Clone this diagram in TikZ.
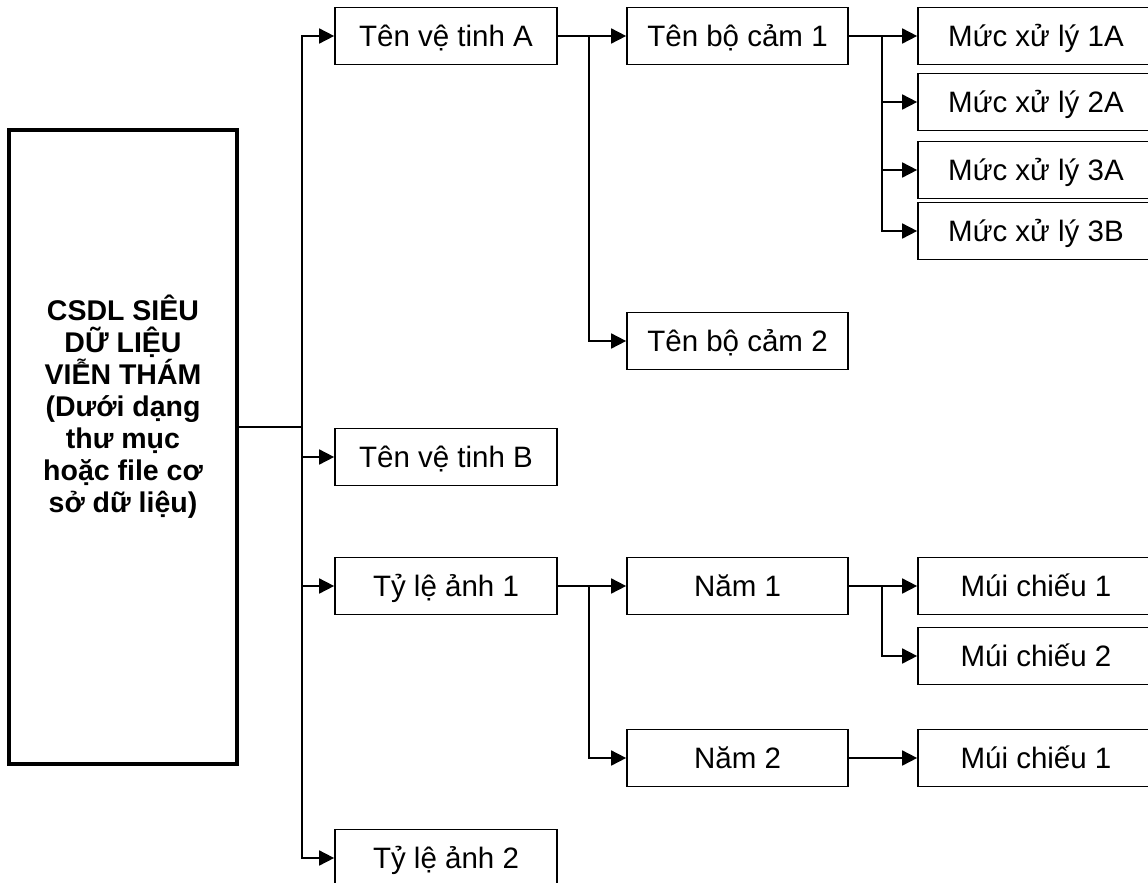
\documentclass[tikz,border=0pt]{standalone}
\usepackage{fontspec}
\setmainfont{Liberation Sans}
\usetikzlibrary{arrows.meta}
\tikzset{
  box/.style={draw, line width=1.7pt, minimum height=57pt, inner sep=0pt, text height=21pt, text depth=0pt, font=\fontsize{29.5}{33}\selectfont, text=black},
  c2box/.style={box, minimum width=222pt},
  c3box/.style={box, minimum width=221pt},
  c4box/.style={box, minimum width=236pt},
  mainbox/.style={draw, line width=3.5pt, minimum width=228pt, minimum height=634pt, inner sep=0pt},
  maintext/.style={align=center, font=\fontsize{28.5}{32}\bfseries\selectfont},
  conn/.style={line width=1.7pt},
  arr/.style={conn, -{Triangle[length=15pt,width=15pt]}}
}
\begin{document}
\begin{tikzpicture}[x=1pt,y=-1pt]
\clip (0,0) rectangle (1148,883);
\fill[white] (0,0) rectangle (1148,883);
% main
\node[mainbox] (main) at (123,447) {};
\node[maintext] (maintitle) at (123,407) {CSDL SIÊU\\DỮ LIỆU\\VIỄN THÁM\\(Dưới dạng\\thư mục\\hoặc file cơ\\sở dữ liệu)};
% column 2
\node[c2box] (tA) at (446,36) {Tên vệ tinh A};
\node[c2box] (tB) at (446,457) {Tên vệ tinh B};
\node[c2box] (t1) at (446,586) {Tỷ lệ ảnh 1};
\node[c2box] (t2) at (446,858) {Tỷ lệ ảnh 2};
% column 3
\node[c3box] (s1) at (737.5,36) {Tên bộ cảm 1};
\node[c3box] (s2) at (737.5,341) {Tên bộ cảm 2};
\node[c3box] (n1) at (737.5,586) {Năm 1};
\node[c3box] (n2) at (737.5,758) {Năm 2};
% column 4
\node[c4box] (m1) at (1036,36) {Mức xử lý 1A};
\node[c4box] (m2) at (1036,102) {Mức xử lý 2A};
\node[c4box] (m3) at (1036,170) {Mức xử lý 3A};
\node[c4box] (m4) at (1036,231) {Mức xử lý 3B};
\node[c4box] (mc1) at (1036,586) {Múi chiếu 1};
\node[c4box] (mc2) at (1036,656) {Múi chiếu 2};
\node[c4box] (mc3) at (1036,758) {Múi chiếu 1};
% branch points
\coordinate (spine) at (302,427);
\coordinate (b2a) at (589,36);
\coordinate (b3a) at (882,36);
\coordinate (b2b) at (589,586);
\coordinate (b3b) at (882,586);
% connectors
\draw[conn] (main.east |- spine) -- (spine);
\draw[arr] (spine) |- (tA.west);
\draw[arr] (spine) |- (tB.west);
\draw[arr] (spine) |- (t1.west);
\draw[arr] (spine) |- (t2.west);
\draw[arr] (tA.east) -- (s1.west);
\draw[arr] (b2a) |- (s2.west);
\draw[arr] (s1.east) -- (m1.west);
\draw[arr] (b3a) |- (m2.west);
\draw[arr] (b3a) |- (m3.west);
\draw[arr] (b3a) |- (m4.west);
\draw[arr] (t1.east) -- (n1.west);
\draw[arr] (b2b) |- (n2.west);
\draw[arr] (n1.east) -- (mc1.west);
\draw[arr] (b3b) |- (mc2.west);
\draw[arr] (n2.east) -- (mc3.west);
\end{tikzpicture}
\end{document}
